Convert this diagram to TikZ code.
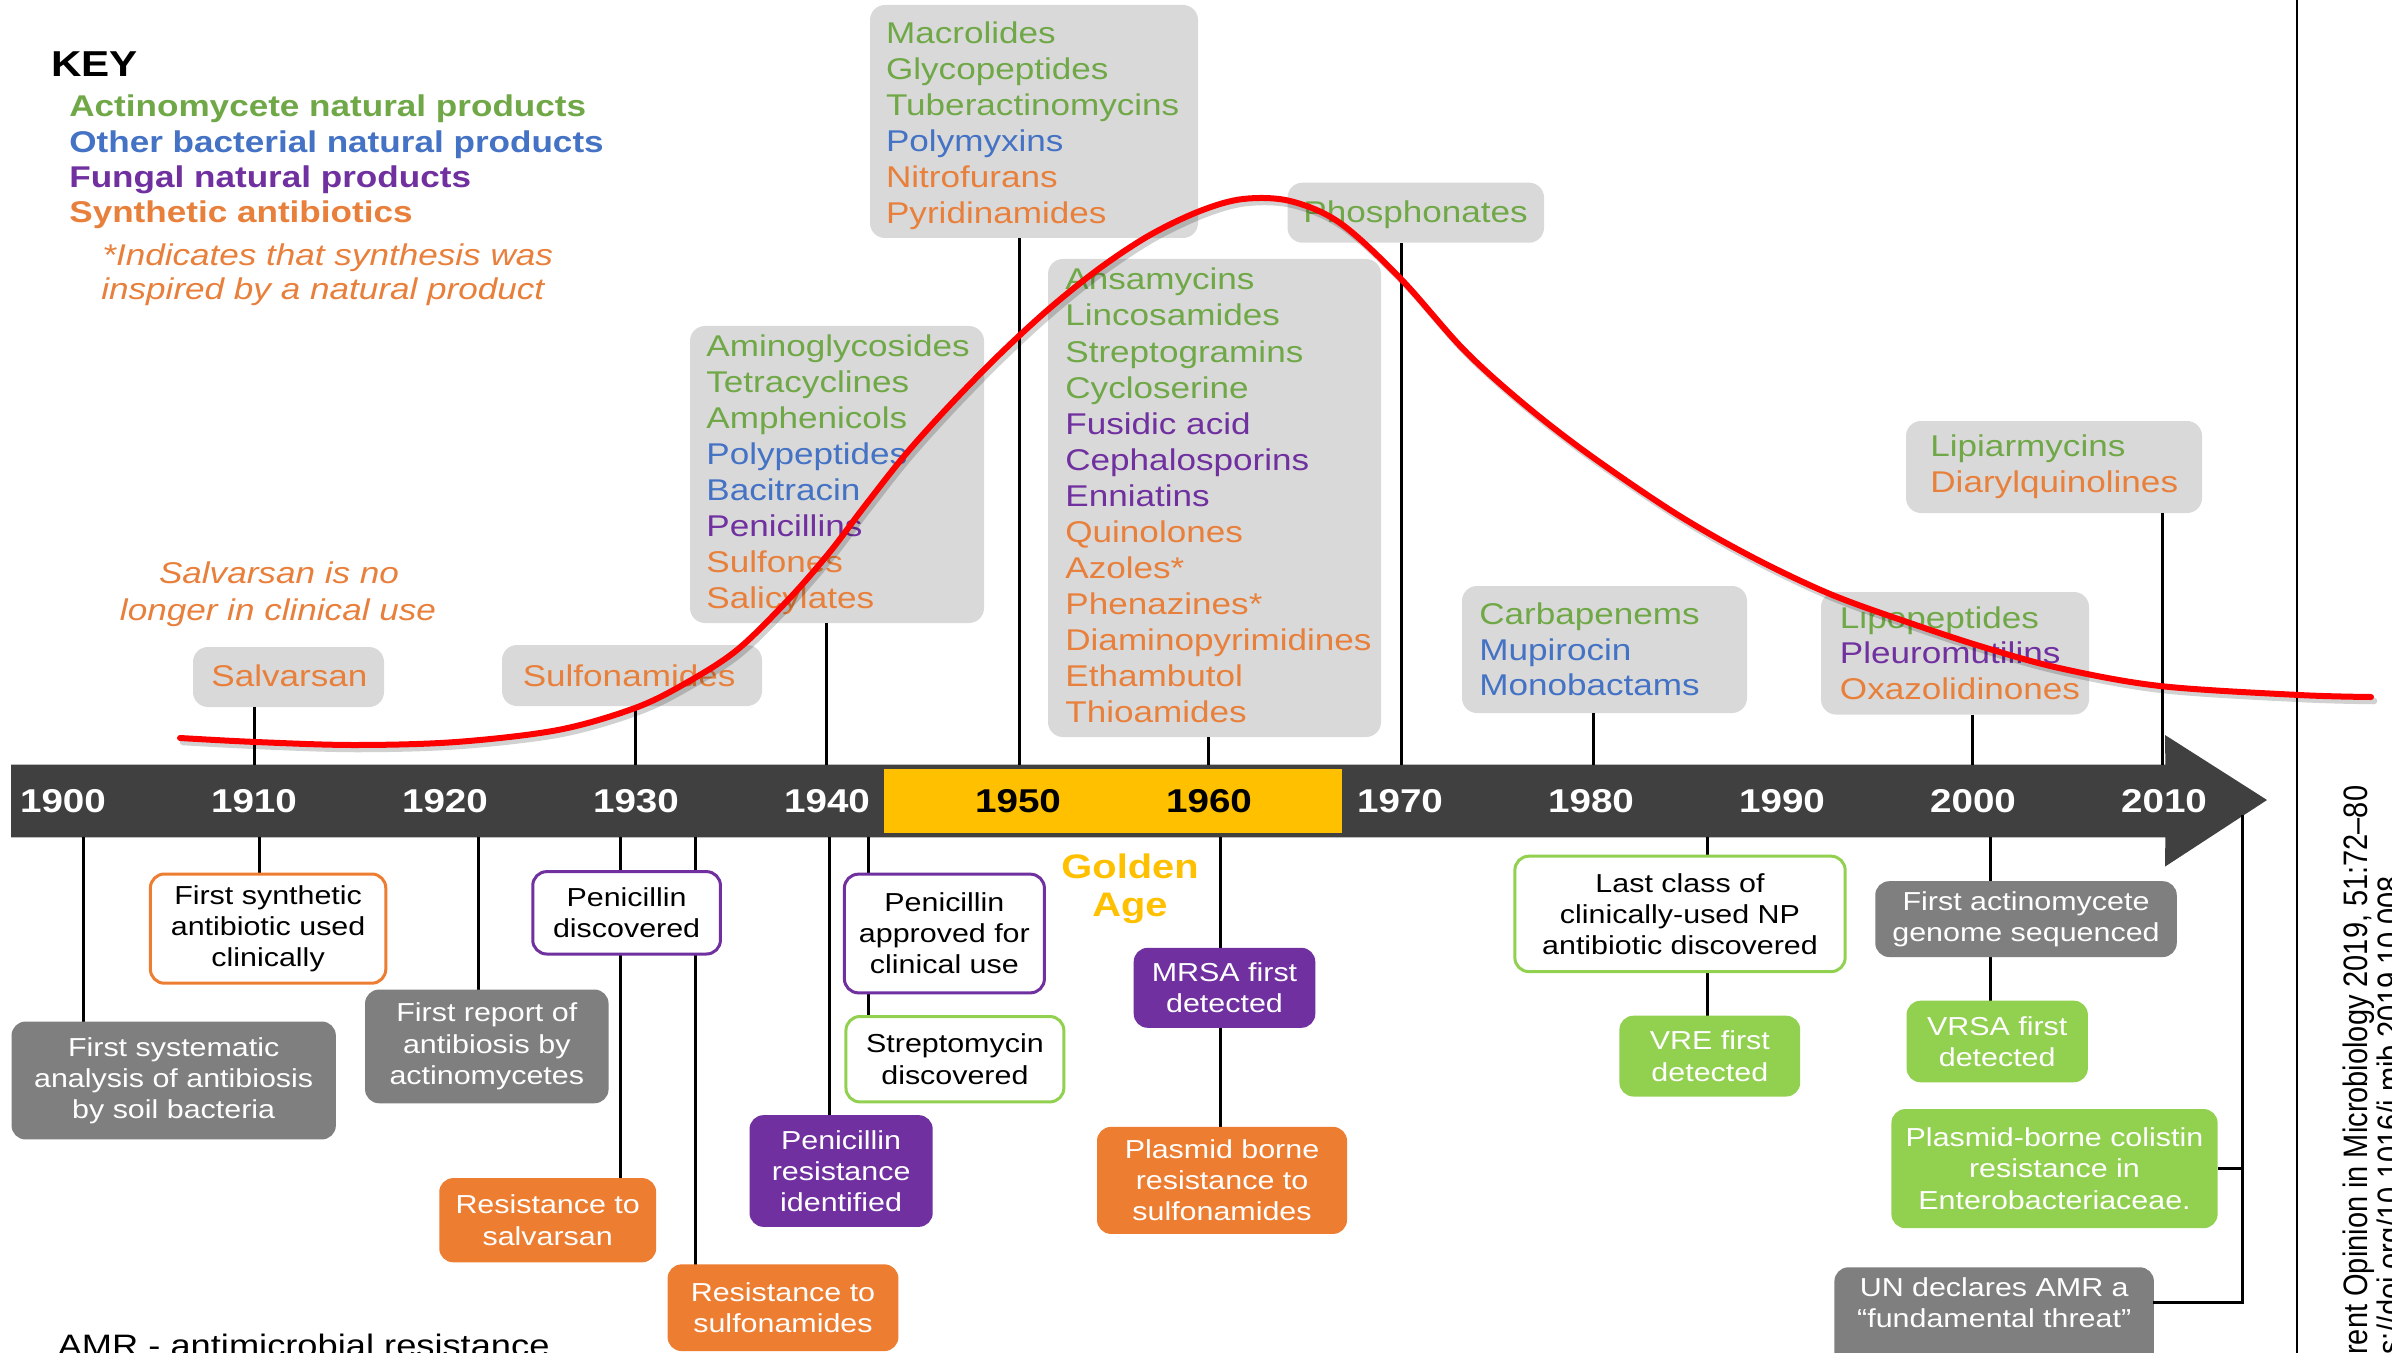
\documentclass[tikz,border=0pt]{standalone}
\usepackage{fontspec}
\setmainfont{Liberation Sans}[FakeStretch=1.17]
\newfontfamily\citefam{Liberation Sans}
\usetikzlibrary{fit}

\definecolor{bardark}{HTML}{404040}
\definecolor{golden}{HTML}{FFC000}
\definecolor{boxgray}{HTML}{D9D9D9}
\definecolor{evgray}{HTML}{7F7F7F}
\definecolor{actgreen}{RGB}{112,168,72}
\definecolor{bacblue}{RGB}{68,114,196}
\definecolor{fungpurple}{RGB}{112,48,160}
\definecolor{synorange}{RGB}{232,128,60}
\definecolor{resorange}{HTML}{ED7D31}
\definecolor{respurple}{HTML}{7030A0}
\definecolor{resgreen}{HTML}{92D050}

\newcommand{\clsfont}{\fontsize{17.07}{20.5}\selectfont}
\newcommand{\evfont}{\fontsize{14.8}{17.75}\selectfont}
\newcommand{\yrfont}{\bfseries\fontsize{18.78}{22}\selectfont}
\newcommand{\keyfont}{\bfseries\fontsize{17.07}{20.5}\selectfont}
\newcommand{\keyheadfont}{\bfseries\fontsize{20.5}{24}\selectfont}
\newcommand{\notefont}{\itshape\fontsize{17.07}{20.5}\selectfont}
\newcommand{\goldfont}{\bfseries\fontsize{19.35}{22}\selectfont}
\newcommand{\amrfont}{\fontsize{17.64}{20}\selectfont}
\newcommand{\citesize}{\citefam\fontsize{16.5}{19}\selectfont}

\tikzset{
  topbox/.style={rounded corners=3mm, fill=boxgray, inner sep=0pt},
  item/.style={anchor=base west, inner sep=0pt, font=\clsfont},
  txt/.style={inner sep=0pt},
  evbase/.style={rectangle, rounded corners=2.8mm, align=center, inner sep=0pt, font=\evfont},
  evgrayfill/.style={evbase, fill=evgray, text=white},
  evorangefill/.style={evbase, fill=resorange, text=white},
  evpurplefill/.style={evbase, fill=respurple, text=white},
  evgreenfill/.style={evbase, fill=resgreen, text=white},
  evorangeline/.style={evbase, fill=white, draw=resorange, line width=0.6mm},
  evpurpleline/.style={evbase, fill=white, draw=respurple, line width=0.6mm},
  evgreenline/.style={evbase, fill=white, draw=resgreen, line width=0.6mm},
  link/.style={line width=0.6mm, black},
  yearlbl/.style={anchor=base, inner sep=0pt, font=\yrfont},
}

\begin{document}
\begin{tikzpicture}[x=0.2mm, y=-0.2mm]
\useasboundingbox (0,0) rectangle (2392,1353);
\clip (0,0) rectangle (2392,1353);
\fill[white] (0,0) rectangle (2392,1353);

% ---------- key ----------
\node[txt, anchor=base west, font=\keyheadfont] (keyhead) at (51,77) {KEY};
\node[txt, anchor=base west, font=\keyfont, text=actgreen] (key1) at (69,116.7) {Actinomycete natural products};
\node[txt, anchor=base west, font=\keyfont, text=bacblue] (key2) at (69,152.7) {Other bacterial natural products};
\node[txt, anchor=base west, font=\keyfont, text=fungpurple] (key3) at (69,187.7) {Fungal natural products};
\node[txt, anchor=base west, font=\keyfont, text=synorange] (key4) at (69,222.7) {Synthetic antibiotics};
\node[txt, anchor=base west, font=\notefont, text=synorange] (key5) at (102,265.7) {*Indicates that synthesis was};
\node[txt, anchor=base west, font=\notefont, text=synorange] (key6) at (101,300) {inspired by a natural product};

% ---------- tick positions ----------
\coordinate (c1910) at (254,0);
\coordinate (c1930) at (635,0);
\coordinate (c1940) at (826,0);
\coordinate (c1950) at (1019.6,0);
\coordinate (c1960) at (1208.6,0);
\coordinate (c1970) at (1401,0);
\coordinate (c1980) at (1593,0);
\coordinate (c2000) at (1972.5,0);
\coordinate (c2010) at (2162,0);
\coordinate (dsys) at (83.2,0);
\coordinate (dsyn) at (259.5,0);
\coordinate (drep) at (478.2,0);
\coordinate (dpdi) at (620,0);
\coordinate (drsu) at (695.8,0);
\coordinate (dpre) at (829,0);
\coordinate (dpap) at (868.9,0);
\coordinate (dmrs) at (1220.4,0);
\coordinate (dlcl) at (1707,0);
\coordinate (dgen) at (1990.5,0);

% ---------- timeline bar ----------
\node[fit={(11.5,765) (2165,837)}, inner sep=0pt] (bar) {};
\fill[bardark] (bar.north west) -- (bar.north east) -- (2165,735) -- (2267,800)
  -- (2165,866.6) -- (bar.south east) -- (bar.south west) -- cycle;
\fill[golden] (883.7,768.7) rectangle (1341.8,833.3);
\foreach \yr/\c in {1900/white,1910/white,1920/white,1930/white,1940/white,1950/black,
                    1960/black,1970/white,1980/white,1990/white,2000/white,2010/white}
  \node[yearlbl, text=\c] (y\yr) at ({63+19.1*(\yr-1900)},812) {\yr};

\node[txt, anchor=base, font=\goldfont, text=golden] (gold1) at (1130,878.3) {Golden};
\node[txt, anchor=base, font=\goldfont, text=golden] (gold2) at (1130,916.6) {Age};

% ---------- antibiotic classes above the bar ----------
\node[topbox, fit={(870,5) (1198,238)}] (mac) {};
\foreach \t/\c [count=\i from 0] in {Macrolides/actgreen, Glycopeptides/actgreen,
    Tuberactinomycins/actgreen, Polymyxins/bacblue, Nitrofurans/synorange, Pyridinamides/synorange}
  \node[item, text=\c] (mact\i) at (885.7,{43.3+36*\i}) {\t};

\node[topbox, fit={(1287.5,182.7) (1544,242.7)}] (pho) {};
\node[item, text=actgreen] (phot) at (1303,223) {Phosphonates};

\node[topbox, fit={(1048,259) (1381,737)}] (ans) {};
\foreach \t/\c [count=\i from 0] in {Ansamycins/actgreen, Lincosamides/actgreen,
    Streptogramins/actgreen, Cycloserine/actgreen, Fusidic acid/fungpurple,
    Cephalosporins/fungpurple, Enniatins/fungpurple, Quinolones/synorange,
    Azoles*/synorange, Phenazines*/synorange, Diaminopyrimidines/synorange,
    Ethambutol/synorange, Thioamides/synorange}
  \node[item, text=\c] (anst\i) at (1065,{290+36*\i}) {\t};

\node[topbox, fit={(690,326) (984,623)}] (ami) {};
\foreach \t/\c [count=\i from 0] in {Aminoglycosides/actgreen, Tetracyclines/actgreen,
    Amphenicols/actgreen, Polypeptides/bacblue, Bacitracin/bacblue,
    Penicillins/fungpurple, Sulfones/synorange, Salicylates/synorange}
  \node[item, text=\c] (amit\i) at (706,{356.7+36*\i}) {\t};

\node[topbox, fit={(193,647) (384,707)}] (sal) {};
\node[item, text=synorange] (salt) at (211,686.7) {Salvarsan};
\node[txt, anchor=base, font=\notefont, text=synorange] (note1) at (279,583) {Salvarsan is no};
\node[txt, anchor=base, font=\notefont, text=synorange] (note2) at (278,620) {longer in clinical use};

\node[topbox, fit={(502,645) (762,706)}] (sul) {};
\node[item, text=synorange] (sult) at (522.4,686.7) {Sulfonamides};

\node[topbox, fit={(1462,586) (1747,713)}] (car) {};
\foreach \t/\c [count=\i from 0] in {Carbapenems/actgreen, Mupirocin/bacblue, Monobactams/bacblue}
  \node[item, text=\c] (cart\i) at (1479,{624.6+35.5*\i}) {\t};

\node[topbox, fit={(1821,592) (2089,714.5)}] (lip) {};
\foreach \t/\c [count=\i from 0] in {Lipopeptides/actgreen, Pleuromutilins/fungpurple, Oxazolidinones/synorange}
  \node[item, text=\c] (lipt\i) at (1839.6,{628.4+35.4*\i}) {\t};

\node[topbox, fit={(1906,421) (2202,513)}] (lia) {};
\node[item, text=actgreen] (liat0) at (1930,456) {Lipiarmycins};
\node[item, text=synorange] (liat1) at (1930,492.5) {Diarylquinolines};

% connectors above the bar
\draw[link] (sal.south -| c1910) -- (bar.north -| c1910);
\draw[link] (sul.south -| c1930) -- (bar.north -| c1930);
\draw[link] (ami.south -| c1940) -- (bar.north -| c1940);
\draw[link] (mac.south -| c1950) -- (bar.north -| c1950);
\draw[link] (ans.south -| c1960) -- (bar.north -| c1960);
\draw[link] (pho.south -| c1970) -- (bar.north -| c1970);
\draw[link] (car.south -| c1980) -- (bar.north -| c1980);
\draw[link] (lip.south -| c2000) -- (bar.north -| c2000);
\draw[link] (lia.south -| c2010) -- (bar.north -| c2010);

% ---------- events below the bar ----------
\coordinate (sysc) at (173.7,1080.5);
\coordinate (sync) at (268.1,928.6);
\coordinate (repc) at (486.8,1046.4);
\coordinate (pdic) at (626.6,912.8);
\coordinate (rsac) at (547.7,1220.2);
\coordinate (rsuc) at (783,1307.7);
\coordinate (papc) at (944.4,933.5);
\coordinate (strc) at (954.9,1059.2);
\coordinate (prec) at (841.1,1171);
\coordinate (mrsc) at (1224.5,987.8);
\coordinate (plac) at (1222,1180.4);
\coordinate (lclc) at (1680,913.9);
\coordinate (vrec) at (1709.8,1056.1);
\coordinate (genc) at (2026,919.1);
\coordinate (vrsc) at (1997.2,1041.5);
\coordinate (colc) at (2054.5,1168.6);

% vertical links (drawn first so the boxes sit on top)
\draw[link] (bar.south -| dsys) -- (sysc -| dsys);
\draw[link] (bar.south -| dsyn) -- (sync -| dsyn);
\draw[link] (bar.south -| drep) -- (repc -| drep);
\draw[link] (bar.south -| dpdi) -- (rsac -| dpdi);
\draw[link] (bar.south -| drsu) -- (rsuc -| drsu);
\draw[link] (bar.south -| dpre) -- (prec -| dpre);
\draw[link] (bar.south -| dpap) -- (strc -| dpap);
\draw[link] (bar.south -| dmrs) -- (plac -| dmrs);
\draw[link] (bar.south -| dlcl) -- (vrec -| dlcl);
\draw[link] (bar.south -| dgen) -- (vrsc -| dgen);

\node[evgrayfill, minimum width=64.86mm, minimum height=23.58mm] (sys) at (sysc)
  {First systematic\\analysis of antibiosis\\by soil bacteria};
\node[evorangeline, minimum width=47.08mm, minimum height=21.84mm] (syn) at (sync)
  {First synthetic\\antibiotic used\\clinically};
\node[evgrayfill, minimum width=48.7mm, minimum height=22.74mm] (rep) at (repc)
  {First report of\\antibiosis by\\actinomycetes};
\node[evpurpleline, minimum width=37.54mm, minimum height=16.48mm] (pdi) at (pdic)
  {Penicillin\\discovered};
\node[evorangefill, minimum width=43.38mm, minimum height=16.84mm] (rsa) at (rsac)
  {Resistance to\\salvarsan};
\node[evorangefill, minimum width=46.16mm, minimum height=17.34mm] (rsu) at (rsuc)
  {Resistance to\\sulfonamides};
\node[evpurpleline, minimum width=40mm, minimum height=23.74mm] (pap) at (papc)
  {Penicillin\\approved for\\clinical use};
\node[evgreenline, minimum width=43.58mm, minimum height=17.08mm] (str) at (strc)
  {Streptomycin\\discovered};
\node[evpurplefill, minimum width=36.64mm, minimum height=22.34mm] (pre) at (prec)
  {Penicillin\\resistance\\identified};
\node[evpurplefill, minimum width=36.32mm, minimum height=16mm] (mrs) at (mrsc)
  {MRSA first\\detected};
\node[evorangefill, minimum width=50mm, minimum height=21.4mm] (pla) at (plac)
  {Plasmid borne\\resistance to\\sulfonamides};
\node[evgreenline, minimum width=66.06mm, minimum height=23.08mm] (lcl) at (lclc)
  {Last class of\\clinically-used NP\\antibiotic discovered};
\node[evgreenfill, minimum width=36.16mm, minimum height=16.16mm] (vre) at (vrec)
  {VRE first\\detected};
\node[evgrayfill, minimum width=60.3mm, minimum height=15.16mm] (gen) at (genc)
  {First actinomycete\\genome sequenced};
\node[evgreenfill, minimum width=36.26mm, minimum height=16.32mm] (vrs) at (vrsc)
  {VRSA first\\detected};
\node[evgreenfill, minimum width=65.24mm, minimum height=23.82mm] (col) at (colc)
  {Plasmid-borne colistin\\resistance in\\Enterobacteriaceae.};
\node[fit={(1834.4,1267.3) (2153.9,1370)}, inner sep=0pt, rounded corners=2.8mm, fill=evgray] (un) {};
\node[txt, align=center, font=\evfont, text=white] (unt) at (1994.2,1303)
  {UN declares AMR a\\``fundamental threat''};

% bracket joining the two latest events to the arrow head
\coordinate (brtop) at (2242,816);
\coordinate (brbot) at (2242,1302);
\draw[link, line cap=rect] (brtop) -- (brbot) -- (un.east |- brbot);
\draw[link] (col.east) -- (col.east -| brtop);

\node[txt, anchor=base west, font=\amrfont] (amr) at (57.4,1356) {AMR - antimicrobial resistance};

% ---------- right margin: rule and citation ----------
\coordinate (rtop) at (2296.7,0);
\coordinate (rbot) at (2296.7,1353);
\draw[line width=0.4mm] (rtop) -- (rbot);
\node[txt, rotate=90, anchor=base west, font=\citesize] (cite1) at (2367,1355)
  {\scalebox{1}[1.17]{rent Opinion in Microbiology 2019, 51:72–80}};
\node[txt, rotate=90, anchor=base west, font=\citesize] (cite2) at (2401,1355)
  {\scalebox{1}[1.17]{s://doi.org/10.1016/j.mib.2019.10.008}};

% ---------- hand-drawn trend curve (with its soft shadow) ----------
\def\trend{(180,738) (256,742) (354,745) (456,742) (558,730) (635,708) (686,683) (737,650)
  (788,600) (829,553) (864,507) (905,455) (950,405) (1000,354) (1050,308) (1100,268)
  (1150,235) (1200,211) (1243,199) (1290,201) (1340,223) (1400,278) (1464,350)
  (1525,405) (1591,456) (1678,515) (1754,558) (1830,594) (1907,622) (1983,647)
  (2059,668) (2160,686) (2299,695) (2371,697)}
\begin{scope}[shift={(3,4)}]
  \draw[black, opacity=0.18, line width=1.3mm, line cap=round]
    plot[smooth, tension=0.55] coordinates {\trend};
\end{scope}
\draw[red, line width=1.2mm, line cap=round] plot[smooth, tension=0.55] coordinates {\trend};
\end{tikzpicture}
\end{document}
